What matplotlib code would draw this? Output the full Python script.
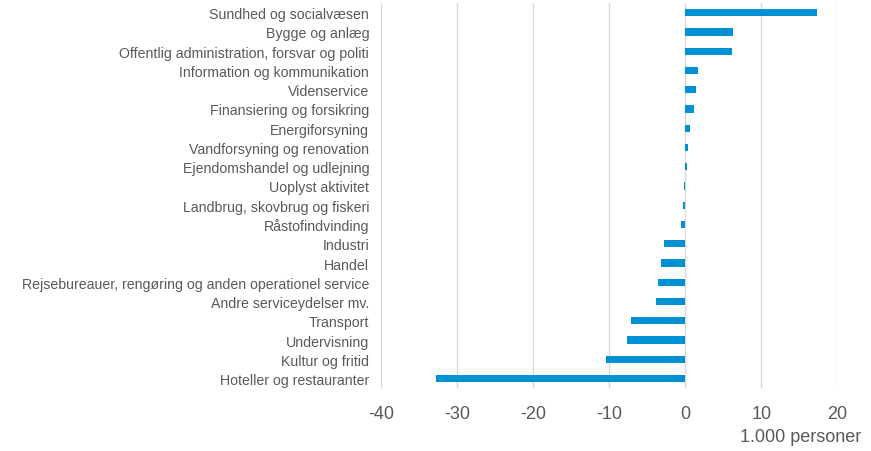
import matplotlib.pyplot as plt

plt.rcParams['font.family'] = ['Liberation Sans', 'DejaVu Sans']

# brancher, top til bund
categories = [
    "Sundhed og socialvæsen",
    "Bygge og anlæg",
    "Offentlig administration, forsvar og politi",
    "Information og kommunikation",
    "Videnservice",
    "Finansiering og forsikring",
    "Energiforsyning",
    "Vandforsyning og renovation",
    "Ejendomshandel og udlejning",
    "Uoplyst aktivitet",
    "Landbrug, skovbrug og fiskeri",
    "Råstofindvinding",
    "Industri",
    "Handel",
    "Rejsebureauer, rengøring og anden operationel service",
    "Andre serviceydelser mv.",
    "Transport",
    "Undervisning",
    "Kultur og fritid",
    "Hoteller og restauranter",
]
values = [17.3, 6.3, 6.2, 1.7, 1.4, 1.1, 0.65, 0.4, 0.2, -0.15,
          -0.3, -0.5, -2.85, -3.15, -3.6, -3.9, -7.1, -7.7, -10.4, -32.8]
xticks = [-40, -30, -20, -10, 0, 10, 20]

text_color = '#595959'
bar_color = '#0091D5'

fig = plt.figure(figsize=(8.71, 4.52), dpi=100)
ax = fig.add_axes([0.4374, 0.139, 0.5239, 0.852])

pos = list(range(len(categories)))
ax.barh(pos, values, height=0.38, color=bar_color, zorder=3)

ax.set_xlim(-40, 20)
ax.set_ylim(len(categories) - 0.5, -0.5)
ax.set_xticks(xticks)
ax.set_xticklabels([str(t) for t in xticks])
ax.set_yticks(pos)
ax.set_yticklabels(categories)

ax.grid(axis='x', color='#d9d9d9', linewidth=1, zorder=0)
for s in ax.spines.values():
    s.set_visible(False)

ax.tick_params(axis='y', length=0, pad=8.5, labelsize=10.2, labelcolor=text_color)
ax.tick_params(axis='x', length=0, pad=12, labelsize=13, labelcolor=text_color)

fig.text(0.989, 0.031, '1.000 personer', ha='right', va='center',
         fontsize=13, color=text_color)

fig.savefig('out.png', dpi=100)
